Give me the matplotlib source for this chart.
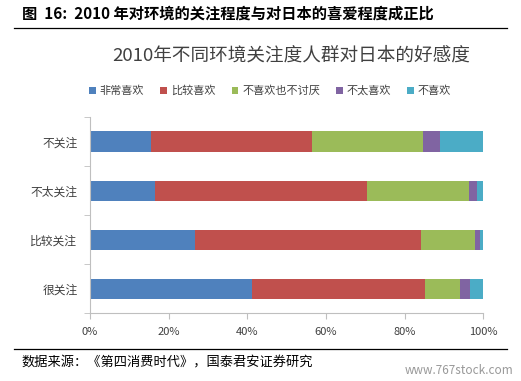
import matplotlib.pyplot as plt
from matplotlib.patches import Patch
import numpy as np

plt.rcParams['font.family'] = ['Noto Sans CJK SC', 'DejaVu Sans']

# data (percent of each group)
groups = ['很关注', '比较关注', '不太关注', '不关注']
series = ['非常喜欢', '比较喜欢', '不喜欢也不讨厌', '不太喜欢', '不喜欢']
very_like = [41.3, 26.8, 16.6, 15.6]
like = [43.9, 57.3, 53.9, 40.8]
neutral = [8.8, 13.8, 25.9, 28.3]
dislike_some = [2.5, 1.3, 2.0, 4.3]
dislike = [3.5, 0.8, 1.6, 11.0]
xticks = [0, 20, 40, 60, 80, 100]

colors = ['#4F81BD', '#C0504D', '#9BBB59', '#8064A2', '#4BACC6']

fig = plt.figure(figsize=(5.21, 3.81), dpi=100)
ax = fig.add_axes([0.1727, 0.1777, 0.7550, 0.5153])

y = np.arange(len(groups))
left = np.zeros(len(groups))
for vals, c in zip([very_like, like, neutral, dislike_some, dislike], colors):
    ax.barh(y, vals, left=left, height=0.41, color=c, edgecolor='none')
    left += np.array(vals)

ax.set_xlim(0, 100)
ax.set_ylim(-0.5, 3.5)
ax.set_xticks(xticks)
ax.set_xticklabels([f'{t}%' for t in xticks], fontsize=8, color='#404040')
ax.set_yticks(y)
ax.set_yticklabels(groups, fontsize=8.5, color='#404040')
ax.set_yticks(np.arange(-0.5, 3.6, 1), minor=True)
ax.tick_params(axis='y', which='major', length=0, pad=9)
ax.tick_params(axis='y', which='minor', length=4, color='#BFBFBF')
ax.tick_params(axis='x', length=4, color='#BFBFBF', pad=6)
for s in ['top', 'right']:
    ax.spines[s].set_visible(False)
for s in ['left', 'bottom']:
    ax.spines[s].set_color('#BFBFBF')
    ax.spines[s].set_linewidth(0.8)

handles = [Patch(facecolor=c, label=l) for c, l in zip(colors, series)]
fig.legend(handles=handles, loc='center left', bbox_to_anchor=(0.152, 0.762),
           ncol=5, frameon=False, fontsize=8, handlelength=0.6, handleheight=0.6,
           handletextpad=0.35, columnspacing=1.45, labelcolor='#404040')

fig.text(0.215, 0.855, '2010年不同环境关注度人群对日本的好感度', fontsize=13.4,
         color='#404040', va='center', fontweight='light')

fig.text(0.042, 0.963, '图  16:  2010 年对环境的关注程度与对日本的喜爱程度成正比',
         fontsize=11, fontweight='bold', va='center')
fig.add_artist(plt.Line2D([0.027, 0.973], [0.926, 0.926], color='black', lw=0.9))
fig.add_artist(plt.Line2D([0.027, 0.973], [0.084, 0.084], color='black', lw=0.9))
fig.text(0.042, 0.047, '数据来源：《第四消费时代》，国泰君安证券研究', fontsize=9.5, va='center')
fig.text(0.985, 0.028, 'www.767stock.com', fontsize=8.5, color='#999999',
         ha='right', va='center')

fig.savefig('out.png', dpi=100)
